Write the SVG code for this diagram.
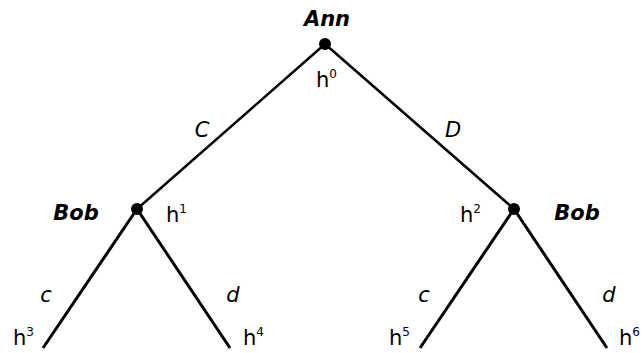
<svg xmlns="http://www.w3.org/2000/svg" width="644" height="353" viewBox="0 0 644 353">
<style>
text{font-family:"DejaVu Sans",Verdana,sans-serif;font-size:21px;fill:#000}
.p{font-weight:bold;font-style:italic;font-size:21px}
.a{font-style:italic}
.s{font-size:12px}
.e{stroke:#000;stroke-width:2.5;fill:none}
.l{stroke-width:3}
</style>
<rect width="644" height="353" fill="#fff"/>
<g id="connectors">
<line class="e" x1="325" y1="44" x2="137" y2="209"/>
<line class="e" x1="325" y1="44" x2="514" y2="209"/>
<line class="e l" x1="137" y1="209" x2="43" y2="348"/>
<line class="e l" x1="137" y1="209" x2="230" y2="348"/>
<line class="e l" x1="514" y1="209" x2="420" y2="348"/>
<line class="e l" x1="514" y1="209" x2="607" y2="348"/>
</g>
<g id="root"><circle cx="325" cy="44" r="6"/><text class="p" x="327" y="26" text-anchor="middle">Ann</text><text x="316" y="87">h<tspan class="s" dy="-9">0</tspan></text></g>
<g id="bob1"><circle cx="137" cy="209" r="6"/><text class="p" x="76" y="220" text-anchor="middle">Bob</text><text x="166" y="222">h<tspan class="s" dy="-9">1</tspan></text></g>
<g id="bob2"><circle cx="514" cy="209" r="6"/><text class="p" x="577" y="220" text-anchor="middle">Bob</text><text x="460" y="222">h<tspan class="s" dy="-9">2</tspan></text></g>
<g id="labels">
<text class="a" x="202" y="137" text-anchor="middle">C</text>
<text class="a" x="453" y="137" text-anchor="middle">D</text>
<text class="a" x="46" y="302" text-anchor="middle">c</text>
<text class="a" x="233" y="302" text-anchor="middle">d</text>
<text class="a" x="424" y="302" text-anchor="middle">c</text>
<text class="a" x="609" y="302" text-anchor="middle">d</text>
</g>
<g id="h3"><text x="13" y="345">h<tspan class="s" dy="-9">3</tspan></text></g>
<g id="h4"><text x="243" y="345">h<tspan class="s" dy="-9">4</tspan></text></g>
<g id="h5"><text x="389" y="345">h<tspan class="s" dy="-9">5</tspan></text></g>
<g id="h6"><text x="619" y="345">h<tspan class="s" dy="-9">6</tspan></text></g>
</svg>
